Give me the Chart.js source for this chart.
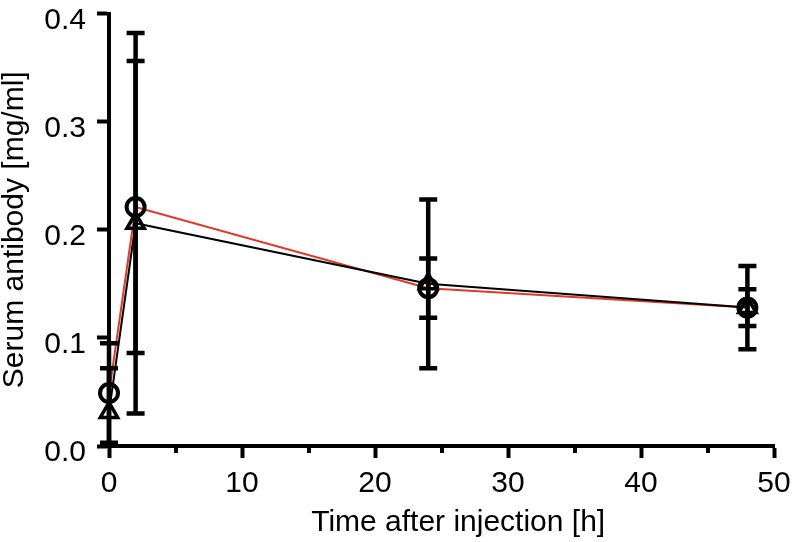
<!DOCTYPE html>
<html>
<head>
<meta charset="utf-8">
<script src="https://cdn.jsdelivr.net/npm/chart.js@4/dist/chart.umd.min.js"></script>
<style>
  body { margin: 0; background: #fff; }
  #wrap { width: 792px; height: 542px; position: relative; }
</style>
</head>
<body>
<div id="wrap"><canvas id="serumChart"></canvas></div>
<script>
// hours after injection
const times = [0, 2, 24, 48];

// circles, red line
const circleMean = [0.049, 0.221, 0.146, 0.128];
const circleErr = [0.046, 0.135, 0.0275, 0.017];

// triangles, black line
const triangleMean = [0.031, 0.206, 0.150, 0.128];
const triangleErr = [0.041, 0.176, 0.078, 0.0385];

const xTicks = [0, 10, 20, 30, 40, 50];
const xMinorTicks = [5, 15, 25, 35, 45];
const yTicks = [0.0, 0.1, 0.2, 0.3, 0.4];

const toPoints = (ys) => times.map((t, i) => ({ x: t, y: ys[i] }));

Chart.defaults.font.family = "'Liberation Sans', Arial, sans-serif";
Chart.defaults.color = "#000";

// error bars, drawn through the scales
const errorBars = {
  id: "errorBars",
  afterDatasetsDraw(chart) {
    const ctx = chart.ctx;
    const xs = chart.scales.x;
    const ys = chart.scales.y;
    const sets = [
      { mean: triangleMean, err: triangleErr },
      { mean: circleMean, err: circleErr },
    ];
    ctx.save();
    ctx.strokeStyle = "#000";
    ctx.lineWidth = 4.5;
    ctx.lineCap = "butt";
    sets.forEach((s) => {
      for (let i = 0; i < times.length; i++) {
        const px = xs.getPixelForValue(times[i]);
        const lo = Math.max(s.mean[i] - s.err[i], ys.min);
        const top = ys.getPixelForValue(s.mean[i] + s.err[i]);
        const bot = ys.getPixelForValue(lo);
        ctx.beginPath();
        ctx.moveTo(px, top);
        ctx.lineTo(px, bot);
        ctx.moveTo(px - 9, top);
        ctx.lineTo(px + 9, top);
        if (lo > ys.min) {
          ctx.moveTo(px - 9, bot);
          ctx.lineTo(px + 9, bot);
        }
        ctx.stroke();
      }
    });
    ctx.restore();
  },
};

// short ticks between the labelled ones
const minorTicks = {
  id: "minorTicks",
  afterDraw(chart) {
    const ctx = chart.ctx;
    const xs = chart.scales.x;
    const base = chart.chartArea.bottom;
    ctx.save();
    ctx.strokeStyle = "#000";
    ctx.lineWidth = 4;
    xMinorTicks.forEach((v) => {
      const px = Math.round(xs.getPixelForValue(v));
      ctx.beginPath();
      ctx.moveTo(px, base);
      ctx.lineTo(px, base + 7);
      ctx.stroke();
    });
    ctx.restore();
  },
};

const ctx = document.getElementById("serumChart").getContext("2d");
const serumChart = new Chart(ctx, {
  type: "line",
  data: {
    datasets: [
      {
        label: "triangle",
        data: toPoints(triangleMean),
        borderColor: "#000",
        borderWidth: 2,
        pointStyle: "triangle",
        pointRadius: 10,
        pointBorderWidth: 3.5,
        pointBorderColor: "#000",
        pointBackgroundColor: "rgba(0,0,0,0)",
        tension: 0,
        clip: false,
      },
      {
        label: "circle",
        data: toPoints(circleMean),
        borderColor: "#e0392a",
        borderWidth: 2,
        pointStyle: "circle",
        pointRadius: 9,
        pointBorderWidth: 4,
        pointBorderColor: "#000",
        pointBackgroundColor: "rgba(0,0,0,0)",
        tension: 0,
        clip: false,
      },
    ],
  },
  options: {
    responsive: true,
    maintainAspectRatio: false,
    animation: false,
    layout: { padding: { top: 5, right: 18, bottom: 0, left: 0 } },
    plugins: { legend: { display: false }, tooltip: { enabled: false } },
    scales: {
      x: {
        type: "linear",
        min: xTicks[0],
        max: xTicks[xTicks.length - 1],
        afterBuildTicks: (scale) => {
          scale.ticks = xTicks.map((v) => ({ value: v }));
        },
        afterFit: (scale) => {
          scale.height = 96;
          scale.paddingLeft = 0;
          scale.paddingRight = 0;
        },
        border: { display: true, color: "#000", width: 4 },
        grid: {
          drawOnChartArea: false,
          drawTicks: true,
          tickLength: 12,
          tickWidth: 4,
          tickColor: "#000",
        },
        ticks: { font: { size: 30 }, padding: 8, maxRotation: 0 },
        title: {
          display: true,
          text: "    Time after injection [h]",
          font: { size: 30, lineHeight: 1.0 },
          padding: { top: 0, bottom: 4 },
        },
      },
      y: {
        type: "linear",
        min: yTicks[0],
        max: yTicks[yTicks.length - 1],
        afterBuildTicks: (scale) => {
          scale.ticks = yTicks.map((v) => ({ value: v }));
        },
        afterFit: (scale) => {
          scale.width = 109;
          scale.paddingTop = 0;
          scale.paddingBottom = 0;
        },
        border: { display: true, color: "#000", width: 4 },
        grid: {
          drawOnChartArea: false,
          drawTicks: true,
          tickLength: 12,
          tickWidth: 4,
          tickColor: "#000",
        },
        ticks: {
          font: { size: 30 },
          padding: 11,
          labelOffset: 7,
          callback: (v) => Number(v).toFixed(1),
        },
        title: {
          display: true,
          text: "Serum antibody [mg/ml]",
          font: { size: 30, lineHeight: 1.0 },
          padding: { top: 0, bottom: 0 },
        },
      },
    },
  },
  plugins: [errorBars, minorTicks],
});
</script>
</body>
</html>
